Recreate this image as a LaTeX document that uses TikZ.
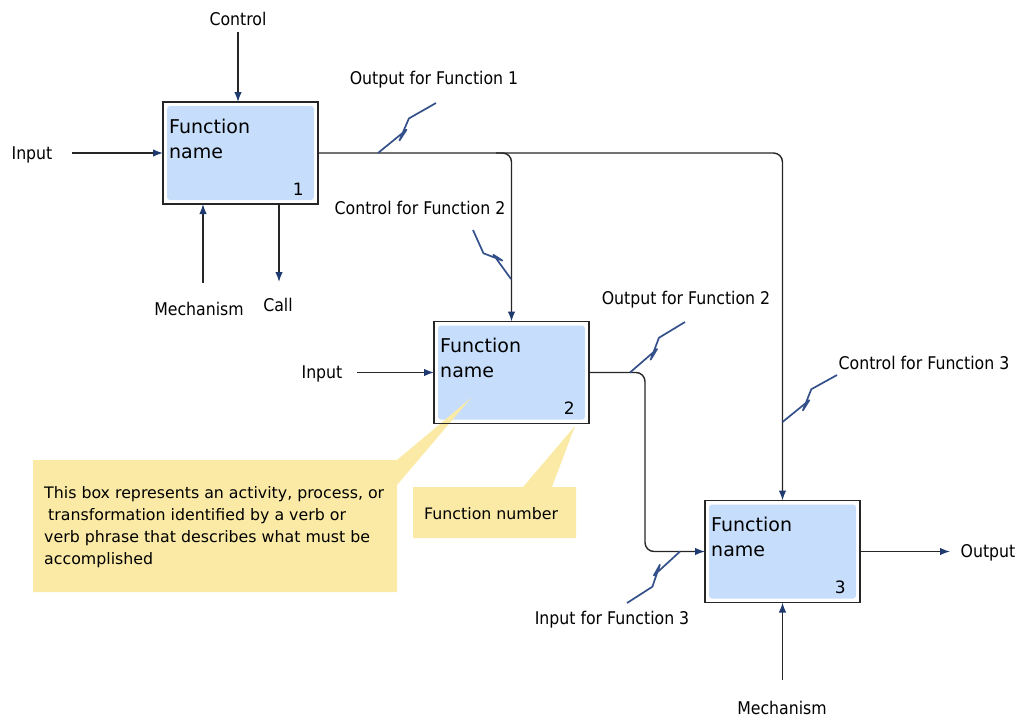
\documentclass[tikz,border=0pt]{standalone}
\usepackage{fontspec}
\setmainfont{DejaVu Sans}
\newfontfamily\lblfont{DejaVu Sans}[FakeStretch=0.9]
\usetikzlibrary{arrows.meta,calc}

\definecolor{linegray}{HTML}{262626}
\definecolor{tipnavy}{HTML}{1F3A6E}
\definecolor{squigblue}{HTML}{34508A}
\definecolor{boxblue}{HTML}{C6DEFC}
\definecolor{noteyellow}{HTML}{FAEAA6}

\tikzset{
  line/.style={draw=linegray, line width=1.4pt},
  arr/.style={line, -{Latex[length=10pt,width=7.5pt,color=tipnavy]}},
  roundbend/.style={rounded corners=9pt},
  squig/.style={draw=squigblue, line width=1.7pt, line join=round},
  funcbox/.style={fill=white, minimum width=155pt, minimum height=102pt,
                  inner sep=0pt, outer sep=0pt},
  lbl/.style={font=\lblfont\fontsize{17.5}{20}\selectfont, inner sep=0pt},
  fname/.style={font=\fontsize{19}{22}\selectfont, inner sep=0pt, anchor=base west},
  fnum/.style={font=\fontsize{17}{18}\selectfont, inner sep=0pt, anchor=base east},
  notetext/.style={font=\fontsize{15.8}{18}\selectfont, inner sep=0pt, anchor=base west},
}

% lightning-bolt marker tying a label to its arrow
\newcommand\zigzag[2]{%
  \draw[squig] (#1)
    -- ($(#1)!0.40!(#2)!6pt!-90:(#2)$)
    -- ($(#1)!0.68!(#2)!4.5pt!90:(#2)$)
    -- ($(#1)!0.52!(#2)!1pt!90:(#2)$)
    -- (#2);}

% function box: white frame with a light blue inset panel
\newcommand\funcpanel[1]{%
  \fill[boxblue, rounded corners=3pt]
    ($(#1.south west)+(4,-4)$) rectangle ($(#1.north east)+(-4,4)$);}

\begin{document}
\begin{tikzpicture}[x=1pt,y=-1pt]
\useasboundingbox (0,0) rectangle (1016,717);

% ---- function boxes ----
\node[funcbox] (f1) at (240.5,153) {};
\node[funcbox] (f2) at (511.5,372.5) {};
\node[funcbox] (f3) at (782.5,551.5) {};
\funcpanel{f1}
\funcpanel{f2}
\funcpanel{f3}

% ---- callouts ----
\fill[noteyellow] (33,460) -- (397,460) -- (471,398) -- (397,485)
  -- (397,592) -- (33,592) -- cycle;
\fill[noteyellow] (413,487) -- (523,487) -- (575,426) -- (552,487)
  -- (576,487) -- (576,538) -- (413,538) -- cycle;

\node[notetext] (n1a) at (44,498) {This box represents an activity, process, or};
\node[notetext] (n1b) at (44,520) {\hspace{4pt}transformation identified by a verb or};
\node[notetext] (n1c) at (44,542) {verb phrase that describes what must be};
\node[notetext] (n1d) at (44,564) {accomplished};
\node[notetext] (n2) at (424,519) {Function number};

% ---- box frames ----
\foreach \b in {f1,f2,f3}
  \draw[linegray, line width=1.6pt] (\b.south west) rectangle (\b.north east);

% ---- box texts ----
\foreach \b/\n in {f1/1,f2/2,f3/3}{
  \node[fname] (\b t) at ($(\b.north west)+(6,31)$) {Function};
  \node[fname] (\b u) at ($(\b.north west)+(6,56)$) {name};
  \node[fnum] (\b n) at ($(\b.south east)+(-14,-9)$) {\n};
}

% ---- function 1 ICOMs ----
\node[lbl] (ctl1) at (238,19) {Control};
\coordinate (ctl1e) at (238,32);
\draw[arr] (ctl1e) -- (ctl1e |- f1.north);

\node[lbl] (in1) at (32,155) {Input};
\coordinate (in1e) at (72,153);
\draw[arr] (in1e) -- (f1.west);

\node[lbl] (mech1) at (199,309) {Mechanism};
\coordinate (mech1e) at (203,283);
\draw[arr] (mech1e) -- (mech1e |- f1.south);

\node[lbl] (call1) at (278,305) {Call};
\coordinate (call1s) at (279,204);
\coordinate (call1e) at (279,282);
\draw[arr] (call1s) -- (call1e);

% output of function 1 feeding control of 2 and 3
\draw[arr, roundbend] (f1.east) -- (f3.north |- f1.east) -- (f3.north);
\coordinate (br1) at (496,153);
\draw[arr, roundbend] (br1) -- (f2.north |- br1) -- (f2.north);

% ---- function 2 ----
\node[lbl] (in2) at (322,374) {Input};
\coordinate (in2e) at (357,372.5);
\draw[arr] (in2e) -- (f2.west);

\draw[arr, roundbend] (f2.east) -- (645,372.5) -- (645,551.5) -- (f3.west);

% ---- function 3 ----
\node[lbl] (out3) at (988,553) {Output};
\coordinate (out3e) at (950,551.5);
\draw[arr] (f3.east) -- (out3e);

\node[lbl] (mech3) at (782,708) {Mechanism};
\coordinate (mech3e) at (782.5,680);
\draw[arr] (mech3e) -- (f3.south);

% ---- arrow labels with bolts ----
\node[lbl] (l1) at (434,80) {Output for Function 1};
\coordinate (z1a) at (436,103); \coordinate (z1b) at (378,153);
\zigzag{z1a}{z1b}

\node[lbl] (l2) at (420,208) {Control for Function 2};
\coordinate (z2a) at (473,230); \coordinate (z2b) at (511,279);
\zigzag{z2a}{z2b}

\node[lbl] (l3) at (686,300) {Output for Function 2};
\coordinate (z3a) at (685,322); \coordinate (z3b) at (630,372.5);
\zigzag{z3a}{z3b}

\node[lbl] (l4) at (924,363) {Control for Function 3};
\coordinate (z4a) at (837,375); \coordinate (z4b) at (782.5,422);
\zigzag{z4a}{z4b}

\node[lbl] (l5) at (612,620) {Input for Function 3};
\coordinate (z5a) at (627,603); \coordinate (z5b) at (680,551.5);
\zigzag{z5a}{z5b}

\end{tikzpicture}
\end{document}
